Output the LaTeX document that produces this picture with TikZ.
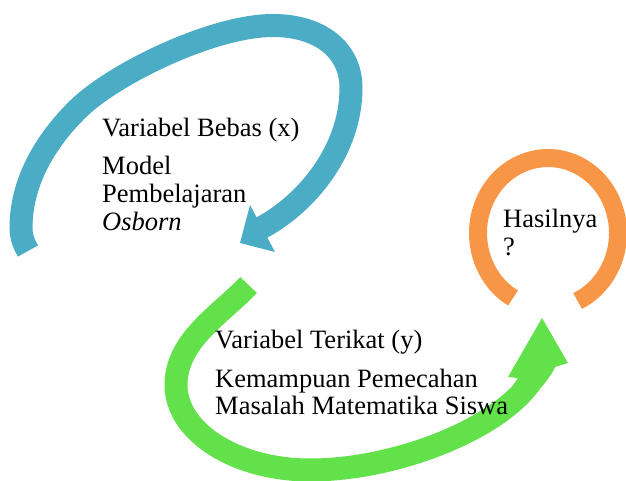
\documentclass[tikz,border=0pt]{standalone}
\usepackage{fontspec}
\setmainfont{Liberation Serif}
\definecolor{arrowblue}{RGB}{75,172,198}
\definecolor{arrowgreen}{RGB}{98,225,74}
\definecolor{ringorange}{RGB}{247,150,70}
\begin{document}
\begin{tikzpicture}[x=1pt,y=-1pt,
  lbl/.style={anchor=base west, inner sep=0pt, font=\fontsize{26.5}{30}\selectfont},
  bluestroke/.style={draw=arrowblue, line width=23pt},
  greenstroke/.style={draw=arrowgreen, line width=23pt},
  ringline/.style={draw=ringorange, line width=18pt}]
\useasboundingbox (0,0) rectangle (626,481);

% blue circular arrow
\draw[bluestroke] (28,251) .. controls (25,246) and (21,238) .. (21,228)
  .. controls (21,178) and (49.7,136.5) .. (78.5,108.5)
  .. controls (114.5,73.5) and (213,25.5) .. (273,25.5)
  .. controls (320,25.5) and (351,50) .. (351,88)
  .. controls (351,150) and (307,203.5) .. (261,228);
\fill[arrowblue] (250,205) -- (240,243) -- (275,252) -- cycle;

% green circular arrow
\draw[greenstroke] (248.5,285) .. controls (221.3,314.2) and (176,340) .. (176,385)
  .. controls (176,432) and (236,470) .. (310,470)
  .. controls (400,470) and (508,425) .. (535,375);
\fill[arrowgreen] (505,397) -- (518,378) -- (508,377) -- (542,318) -- (568,363) -- (555,367)
  .. controls (549,383) and (514.6,416.2) .. (497.8,427.1) -- cycle;

% orange ring
\draw[ringline] (513,298) arc[start angle=120, end angle=425, x radius=70, y radius=75];

% texts
\node[lbl] (b1) at (102,137) {Variabel Bebas (x)};
\node[lbl] (b2) at (102,175) {Model};
\node[lbl] (b3) at (102,202.5) {Pembelajaran};
\node[lbl] (b4) at (102,230) {\textit{Osborn}};

\node[lbl] (g1) at (215,348) {Variabel Terikat (y)};
\node[lbl] (g2) at (215,387) {Kemampuan Pemecahan};
\node[lbl] (g3) at (215,414) {Masalah Matematika Siswa};

\node[lbl] (o1) at (503,227) {Hasilnya};
\node[lbl] (o2) at (503,255) {?};
\end{tikzpicture}
\end{document}
